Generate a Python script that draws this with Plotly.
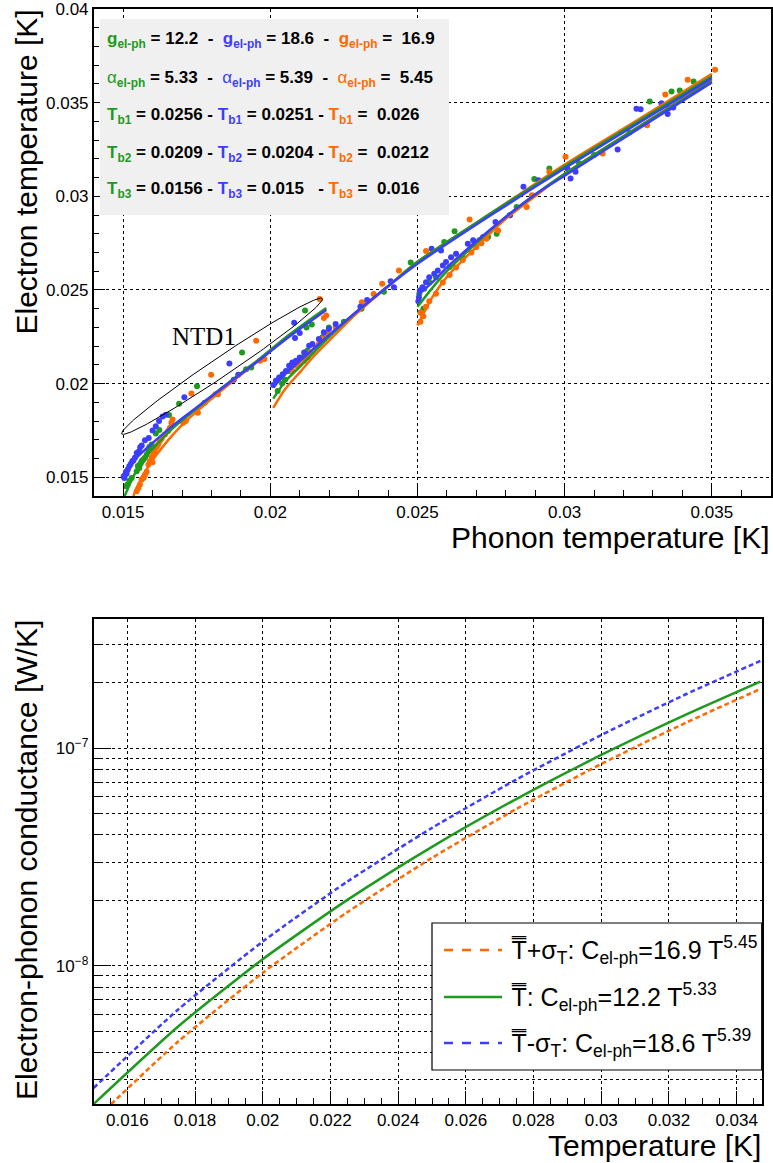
import numpy as np
import plotly.graph_objects as go

W, H = 773, 1163
GREEN = "#1e9a1e"
BLUE = "#3d3dff"
ORANGE = "#ff6a00"
FONT = "Liberation Sans, Arial, Helvetica, sans-serif"

# ---------------- top panel: measured points ----------------
green_x = [0.01510, 0.01515, 0.01521, 0.01529, 0.01546, 0.01550, 0.01555, 0.01557, 0.01560, 0.01563,
           0.01565, 0.01569, 0.01574, 0.01580, 0.01586, 0.01589, 0.01597, 0.01611, 0.01623, 0.01656,
           0.01690, 0.01751, 0.01777, 0.01904, 0.01918, 0.01935, 0.02118, 0.02123, 0.02141,
           0.02025, 0.02040, 0.02050, 0.02064, 0.02081, 0.02092, 0.02109, 0.02126, 0.02177, 0.02199,
           0.02250, 0.02310, 0.02386, 0.02477, 0.02591, 0.02626, 0.02897, 0.02948, 0.03289, 0.03363,
           0.03391, 0.03438,
           0.02506, 0.02510, 0.02520, 0.02523, 0.02540, 0.02563, 0.02609, 0.02654, 0.02711, 0.02740,
           0.02769, 0.02814, 0.02837, 0.03049, 0.03100, 0.03220, 0.03400]
green_y = [0.01452, 0.01461, 0.01482, 0.01496, 0.01532, 0.01560, 0.01550, 0.01568, 0.01575, 0.01586,
           0.01590, 0.01595, 0.01604, 0.01620, 0.01639, 0.01661, 0.01675, 0.01734, 0.01752, 0.01832,
           0.01893, 0.01986, 0.01898, 0.02166, 0.02077, 0.02086, 0.02390, 0.02300, 0.02315,
           0.01960, 0.02000, 0.02020, 0.02068, 0.02104, 0.02113, 0.02140, 0.02175, 0.02247, 0.02300,
           0.02330, 0.02400, 0.02491, 0.02647, 0.02756, 0.02813, 0.03092, 0.03149, 0.03506, 0.03560,
           0.03565, 0.03613,
           0.02479, 0.02380, 0.02400, 0.02506, 0.02541, 0.02568, 0.02622, 0.02675, 0.02765, 0.02783,
           0.02800, 0.02899, 0.02943, 0.03176, 0.03220, 0.03340, 0.03520]

blue_x = [0.01502, 0.01504, 0.01507, 0.01510, 0.01512, 0.01516, 0.01521, 0.01526, 0.01531, 0.01535,
          0.01540, 0.01546, 0.01554, 0.01558, 0.01563, 0.01574, 0.01587, 0.01600, 0.01611, 0.01622,
          0.01634, 0.01645, 0.01708, 0.01861, 0.01876, 0.01891, 0.02081, 0.02084, 0.02100,
          0.02010, 0.02019, 0.02030, 0.02042, 0.02053, 0.02064, 0.02075, 0.02087, 0.02100, 0.02115,
          0.02132, 0.02143, 0.02165, 0.02182, 0.02199, 0.02222, 0.02306, 0.02329, 0.02409, 0.02420,
          0.02548, 0.02580, 0.02860, 0.02911, 0.03009, 0.03244, 0.03258, 0.03329, 0.03353, 0.03369,
          0.02503, 0.02505, 0.02508, 0.02517, 0.02529, 0.02540, 0.02557, 0.02569, 0.02586, 0.02597,
          0.02614, 0.02631, 0.02671, 0.02689, 0.02723, 0.02765, 0.02814, 0.03020, 0.03037, 0.03180,
          0.03350]
blue_y = [0.01505, 0.01496, 0.01514, 0.01529, 0.01520, 0.01541, 0.01559, 0.01571, 0.01586, 0.01590,
          0.01604, 0.01630, 0.01639, 0.01660, 0.01670, 0.01697, 0.01709, 0.01750, 0.01773, 0.01800,
          0.01825, 0.01834, 0.01927, 0.02107, 0.02020, 0.02047, 0.02325, 0.02243, 0.02270,
          0.01993, 0.02015, 0.02032, 0.02050, 0.02068, 0.02095, 0.02113, 0.02122, 0.02140, 0.02166,
          0.02202, 0.02211, 0.02238, 0.02274, 0.02291, 0.02318, 0.02411, 0.02447, 0.02547, 0.02515,
          0.02720, 0.02711, 0.03051, 0.03086, 0.03149, 0.03468, 0.03465, 0.03497, 0.03470, 0.03474,
          0.02440, 0.02460, 0.02497, 0.02515, 0.02541, 0.02568, 0.02586, 0.02604, 0.02631, 0.02649,
          0.02675, 0.02693, 0.02747, 0.02765, 0.02783, 0.02863, 0.02899, 0.03095, 0.03131, 0.03250,
          0.03440]

orange_x = [0.01546, 0.01552, 0.01557, 0.01563, 0.01569, 0.01570, 0.01574, 0.01580, 0.01586, 0.01591,
            0.01597, 0.01600, 0.01602, 0.01608, 0.01614, 0.01619, 0.01625, 0.01631, 0.01642, 0.01653,
            0.01659, 0.01664, 0.01668, 0.01704, 0.01713, 0.01732, 0.01749, 0.01754, 0.01799, 0.01814,
            0.01822, 0.01952, 0.01965, 0.01980, 0.02168, 0.02182, 0.02190,
            0.02075, 0.02087, 0.02098, 0.02115, 0.02126, 0.02137, 0.02154, 0.02165, 0.02177, 0.02194,
            0.02222, 0.02311, 0.02351, 0.02380, 0.02437, 0.02529, 0.02677, 0.02948, 0.03003, 0.03342,
            0.03418, 0.03511,
            0.02510, 0.02511, 0.02520, 0.02529, 0.02540, 0.02563, 0.02586, 0.02609, 0.02631, 0.02654,
            0.02683, 0.02700, 0.02717, 0.02734, 0.02774, 0.02871, 0.02889, 0.03129, 0.03280, 0.03450]
orange_y = [0.01425, 0.01443, 0.01461, 0.01488, 0.01496, 0.01500, 0.01514, 0.01530, 0.01568, 0.01586,
            0.01604, 0.01580, 0.01621, 0.01639, 0.01661, 0.01675, 0.01693, 0.01707, 0.01729, 0.01747,
            0.01764, 0.01791, 0.01809, 0.01791, 0.01800, 0.01947, 0.01854, 0.01845, 0.02047, 0.01943,
            0.01943, 0.02229, 0.02122, 0.02131, 0.02452, 0.02350, 0.02363,
            0.02068, 0.02095, 0.02104, 0.02122, 0.02140, 0.02166, 0.02193, 0.02211, 0.02238, 0.02265,
            0.02300, 0.02434, 0.02479, 0.02533, 0.02604, 0.02708, 0.02876, 0.03131, 0.03211, 0.03544,
            0.03622, 0.03676,
            0.02330, 0.02380, 0.02360, 0.02410, 0.02440, 0.02480, 0.02540, 0.02580, 0.02620, 0.02660,
            0.02700, 0.02730, 0.02750, 0.02774, 0.02818, 0.02943, 0.03006, 0.03229, 0.03380, 0.03570]

# ---------------- top panel: fitted curves (three bath temperatures) ----------------
fitA_x = {"blue":   [0.01500, 0.01535, 0.01569, 0.01614, 0.01670, 0.01726, 0.01839, 0.01952, 0.02064, 0.02190],
          "green":  [0.01505, 0.01512, 0.01535, 0.01569, 0.01614, 0.01670, 0.01726, 0.01839, 0.01952, 0.02064, 0.02190],
          "orange": [0.01535, 0.01541, 0.01557, 0.01586, 0.01614, 0.01670, 0.01726, 0.01839, 0.01952, 0.02064, 0.02190]}
fitA_y = {"blue":   [0.01510, 0.01586, 0.01639, 0.01702, 0.01777, 0.01845, 0.01979, 0.02113, 0.02250, 0.02393],
          "green":  [0.01400, 0.01425, 0.01505, 0.01595, 0.01675, 0.01764, 0.01836, 0.01982, 0.02118, 0.02261, 0.02404],
          "orange": [0.01400, 0.01425, 0.01479, 0.01559, 0.01621, 0.01729, 0.01818, 0.01970, 0.02113, 0.02256, 0.02398]}
fitB_x = [0.0201, 0.0205, 0.0210, 0.0215, 0.0220, 0.0229, 0.0240, 0.0250, 0.0275, 0.0300, 0.0325, 0.0350]
fitB_y = {"blue":   [0.0198, 0.0205, 0.0212, 0.0219, 0.0226, 0.0238, 0.0252, 0.0264, 0.0290, 0.0315, 0.0339, 0.03631],
          "green":  [0.0192, 0.0201, 0.0209, 0.0217, 0.0225, 0.0238, 0.0252, 0.0265, 0.0291, 0.0316, 0.0340, 0.0364],
          "orange": [0.0187, 0.0197, 0.0206, 0.0215, 0.0223, 0.0237, 0.0252, 0.0265, 0.0291, 0.0317, 0.0341, 0.03654]}
fitC_x = [0.0250, 0.0255, 0.0260, 0.0270, 0.0280, 0.0290, 0.0300, 0.0325, 0.0350]
fitC_y = {"blue":   [0.0247, 0.0254, 0.0262, 0.0276, 0.0289, 0.0301, 0.0311, 0.0336, 0.03608],
          "green":  [0.0241, 0.0251, 0.0260, 0.0275, 0.0289, 0.0301, 0.0312, 0.0337, 0.03615],
          "orange": [0.0231, 0.0246, 0.0257, 0.0273, 0.0288, 0.0300, 0.0312, 0.0337, 0.03622]}

# ---------------- bottom panel: conductance curves ----------------
T_vals = [0.015, 0.0175, 0.020, 0.0225, 0.025, 0.0275, 0.030, 0.0325, 0.0347]
G_plus = [1.939e-9, 4.492e-9, 9.301e-9, 1.7673e-8, 3.138e-8, 5.275e-8, 8.476e-8, 1.3112e-7, 1.8737e-7]   # orange
G_mean = [2.317e-9, 5.269e-9, 1.0737e-8, 2.011e-8, 3.527e-8, 5.861e-8, 9.320e-8, 1.4277e-7, 2.0245e-7]  # green
G_minus = [2.7455e-9, 6.303e-9, 1.2944e-8, 2.442e-8, 4.309e-8, 7.204e-8, 1.1514e-7, 1.7724e-7, 2.5228e-7]  # blue

NB = "\u00a0"
# rows of the parameter box: (symbol, subscript, value, separator) per column
box_rows = [
    [("g", "el-ph", "= 12.2", NB + " -" + NB + " "), ("g", "el-ph", "= 18.6", NB + " -" + NB + " "), ("g", "el-ph", "=" + NB + " 16.9", "")],
    [("α", "el-ph", "= 5.33", NB + " -" + NB + " "), ("α", "el-ph", "= 5.39", NB + " -" + NB + " "), ("α", "el-ph", "=" + NB + " 5.45", "")],
    [("T", "b1", "= 0.0256", " - "), ("T", "b1", "= 0.0251", " - "), ("T", "b1", "=" + NB + " 0.026", "")],
    [("T", "b2", "= 0.0209", " - "), ("T", "b2", "= 0.0204", " - "), ("T", "b2", "=" + NB + " 0.0212", "")],
    [("T", "b3", "= 0.0156", " - "), ("T", "b3", "= 0.015", NB + NB + " - "), ("T", "b3", "=" + NB + " 0.016", "")],
]
legend_rows = [
    ("T̿+σ<sub>T</sub>: C<sub>el-ph</sub>=16.9 T<sup>5.45</sup>", ORANGE, "dash"),
    ("T̿: C<sub>el-ph</sub>=12.2 T<sup>5.33</sup>", GREEN, "solid"),
    ("T̿-σ<sub>T</sub>: C<sub>el-ph</sub>=18.6 T<sup>5.39</sup>", BLUE, "dash"),
]

# ---------------- geometry (pixels) ----------------
TOP = dict(x0=93.7, x1=770.7, y0=9, y1=496)
BOT = dict(x0=93.5, x1=761.7, y0=619, y1=1104)
XR1, YR1 = [0.014, 0.037], [0.014, 0.040]
XR2, YR2 = [0.015, 0.03474], [np.log10(2.32e-9), np.log10(3.93e-7)]

def xp(px):
    return px / W

def yp(py):
    return 1 - py / H

fig = go.Figure()
cols = {"green": GREEN, "blue": BLUE, "orange": ORANGE}

for xs, ys, c in [(green_x, green_y, GREEN), (orange_x, orange_y, ORANGE), (blue_x, blue_y, BLUE)]:
    fig.add_trace(go.Scatter(x=xs, y=ys, mode="markers", marker=dict(color=c, size=6),
                             xaxis="x", yaxis="y", hoverinfo="skip"))

for name in ["orange", "green", "blue"]:
    for fx, fy in [(fitA_x[name], fitA_y[name]), (fitB_x, fitB_y[name]), (fitC_x, fitC_y[name])]:
        fig.add_trace(go.Scatter(x=fx, y=fy, mode="lines",
                                 line=dict(color=cols[name], width=2.5, shape="spline", smoothing=0.8),
                                 xaxis="x", yaxis="y"))

# NTD1 ellipse (centre in data units, semi-axes in pixels)
ell_cx, ell_cy, ell_a, ell_b, ell_ang = 0.018359, 0.020928, 121.0, 9.5, 34.0
sx = (XR1[1] - XR1[0]) / (TOP["x1"] - TOP["x0"])
sy = (YR1[1] - YR1[0]) / (TOP["y1"] - TOP["y0"])
t = np.linspace(0, 2 * np.pi, 200)
th = np.radians(ell_ang)
dx = ell_a * np.cos(t) * np.cos(th) - ell_b * np.sin(t) * np.sin(th)
dy = ell_a * np.cos(t) * np.sin(th) + ell_b * np.sin(t) * np.cos(th)
fig.add_trace(go.Scatter(x=ell_cx + dx * sx, y=ell_cy + dy * sy, mode="lines",
                         line=dict(color="black", width=1), xaxis="x", yaxis="y"))

# bottom panel
for G, c, d in [(G_plus, ORANGE, "5px,3px"), (G_mean, GREEN, "solid"), (G_minus, BLUE, "5px,3px")]:
    fig.add_trace(go.Scatter(x=T_vals, y=G, mode="lines",
                             line=dict(color=c, width=2.5, dash=d, shape="spline", smoothing=0.6),
                             xaxis="x2", yaxis="y2"))

axis_common = dict(showline=True, linecolor="black", linewidth=1.5, mirror=True, ticks="inside",
                   tickcolor="black", tickwidth=1, showgrid=True, gridcolor="black", griddash="dot",
                   gridwidth=1, zeroline=False, automargin=False, ticklabeloverflow="allow",
                   tickfont=dict(family=FONT, size=17, color="black"))

log_minor = [k * 10.0 ** e for e in (-9, -8, -7) for k in range(2, 10)
             if 2.32e-9 <= k * 10.0 ** e <= 3.93e-7]

fig.update_layout(
    width=W, height=H, margin=dict(l=0, r=0, t=0, b=0, pad=0),
    paper_bgcolor="white", plot_bgcolor="white", showlegend=False,
    xaxis=dict(domain=[xp(TOP["x0"]), xp(TOP["x1"])], anchor="y", range=XR1,
               tickmode="array", tickvals=[0.015, 0.02, 0.025, 0.03, 0.035],
               ticktext=["0.015", "0.02", "0.025", "0.03", "0.035"], ticklen=12,
               minor=dict(tick0=0.014, dtick=0.001, ticks="inside", ticklen=6, tickcolor="black", showgrid=False),
               **axis_common),
    yaxis=dict(domain=[yp(TOP["y1"]), yp(TOP["y0"])], anchor="x", range=YR1,
               tickmode="array", tickvals=[0.015, 0.02, 0.025, 0.03, 0.035, 0.04],
               ticktext=["0.015", "0.02", "0.025", "0.03", "0.035", "0.04"], ticklen=12,
               minor=dict(tick0=0.014, dtick=0.001, ticks="inside", ticklen=6, tickcolor="black", showgrid=False),
               **axis_common),
    xaxis2=dict(domain=[xp(BOT["x0"]), xp(BOT["x1"])], anchor="y2", range=XR2,
                tickmode="array", tickvals=[0.016 + 0.002 * i for i in range(10)],
                ticktext=["0.016", "0.018", "0.02", "0.022", "0.024", "0.026", "0.028", "0.03", "0.032", "0.034"],
                ticklen=13,
                minor=dict(tick0=0.015, dtick=0.0005, ticks="inside", ticklen=6, tickcolor="black", showgrid=False),
                **axis_common),
    yaxis2=dict(domain=[yp(BOT["y1"]), yp(BOT["y0"])], anchor="x2", type="log", range=YR2,
                tickmode="array", tickvals=[1e-8, 1e-7], ticktext=["10<sup>−8</sup>", "10<sup>−7</sup>"],
                ticklen=18,
                minor=dict(tickmode="array", tickvals=log_minor, ticks="inside", ticklen=9, tickcolor="black",
                           showgrid=True, gridcolor="black", griddash="dot", gridwidth=1),
                **axis_common),
)

shapes = []
# grey parameter box
shapes.append(dict(type="rect", xref="paper", yref="paper", x0=xp(100), x1=xp(449), y0=yp(215), y1=yp(19),
                   fillcolor="#f0f0f0", line=dict(width=0), layer="above"))
# legend box
LG = dict(x0=432, x1=761.7, y0=923, y1=1070)
shapes.append(dict(type="rect", xref="paper", yref="paper", x0=xp(LG["x0"]), x1=xp(LG["x1"]),
                   y0=yp(LG["y1"]), y1=yp(LG["y0"]), fillcolor="white",
                   line=dict(color="black", width=1.2), layer="above"))
annotations = []

def ann(text, px, py, size=17, xanchor="center", yanchor="middle", color="black", family=FONT, angle=0):
    annotations.append(dict(text=text, x=xp(px), y=yp(py), xref="paper", yref="paper", showarrow=False,
                            xanchor=xanchor, yanchor=yanchor, textangle=angle, borderpad=0,
                            font=dict(family=family, size=size, color=color)))

row_y = [40, 79, 116, 154, 190]
col_colors = [GREEN, BLUE, ORANGE]
for r, row in enumerate(box_rows):
    parts = []
    for c, (sym, sub, val, sep) in enumerate(row):
        if sym == "α":
            parts.append(f"<span style='color:{col_colors[c]}'>α<b><sub>{sub}</sub></b></span><b> {val}{sep}</b>")
        else:
            parts.append(f"<b><span style='color:{col_colors[c]}'>{sym}<sub>{sub}</sub></span> {val}{sep}</b>")
    ann("".join(parts), 106, row_y[r], size=17, xanchor="left")

ann("NTD1", 204, 336, size=25, family="Liberation Serif, Times New Roman, serif")

# axis titles
ann("Phonon temperature [K]", 771, 537, size=30, xanchor="right")
ann("Electron temperature [K]", 26, 9, size=30, yanchor="top", angle=-90)
ann("Temperature [K]", 762, 1145, size=30, xanchor="right")
ann("Electron-phonon conductance [W/K]", 26, 619, size=30, yanchor="top", angle=-90)

# legend entries
leg_y = [950, 997, 1043]
for (txt, c, d), ly in zip(legend_rows, leg_y):
    shapes.append(dict(type="line", xref="paper", yref="paper", x0=xp(444), x1=xp(502), y0=yp(ly), y1=yp(ly),
                       line=dict(color=c, width=2.5, dash=d), layer="above"))
    ann(txt, 510, ly, size=25, xanchor="left")

fig.update_layout(shapes=shapes, annotations=annotations)
fig.write_html("out.html", config={"displayModeBar": False},
               post_script="document.body.style.margin='0px';document.body.style.overflow='hidden';")
